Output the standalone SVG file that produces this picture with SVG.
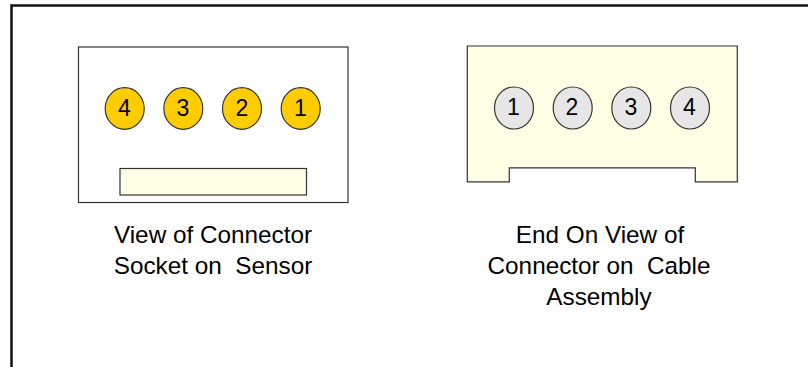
<svg xmlns="http://www.w3.org/2000/svg" width="808" height="367" viewBox="0 0 808 367">
<style>
text{font-family:"Liberation Sans",Arial,sans-serif;fill:#000;text-anchor:middle}
.n{font-size:23px}
.c{font-size:24.300px;white-space:pre}
.s{stroke:#333;stroke-width:1.2}
.y{fill:#ffcc00}
.g{fill:#e6e6e6}
.l{fill:#ffffe6}
</style>
<rect width="808" height="367" fill="#fff"/>
<path d="M11.500 367V5.500H808" fill="none" stroke="#111" stroke-width="2.500"/>
<g id="sensor-socket">
<rect x="78.500" y="47" width="269.500" height="155.500" fill="#fff" class="s"/>
<rect x="120" y="168.500" width="186.500" height="26.500" class="s l"/>
</g>
<g id="socket-pin-4"><ellipse cx="124.700" cy="108.500" rx="19.500" ry="20.800" class="s y"/><text class="n" x="124.500" y="115.500">4</text></g>
<g id="socket-pin-3"><ellipse cx="183.300" cy="108.500" rx="19.500" ry="20.800" class="s y"/><text class="n" x="183" y="115.500">3</text></g>
<g id="socket-pin-2"><ellipse cx="242" cy="108.500" rx="19.500" ry="20.800" class="s y"/><text class="n" x="242" y="115.500">2</text></g>
<g id="socket-pin-1"><ellipse cx="300.700" cy="108.500" rx="19.500" ry="20.800" class="s y"/><text class="n" x="300.500" y="115.500">1</text></g>
<g id="cable-connector">
<path d="M467.300 46H737.300V181.800H695.300V167.800H509.300V181.800H467.300Z" class="s l"/>
</g>
<g id="cable-pin-1"><ellipse cx="514" cy="108" rx="19.500" ry="21" class="s g"/><text class="n" x="513.500" y="114.500">1</text></g>
<g id="cable-pin-2"><ellipse cx="572.700" cy="108" rx="19.500" ry="21" class="s g"/><text class="n" x="572" y="114.500">2</text></g>
<g id="cable-pin-3"><ellipse cx="631.300" cy="108" rx="19.500" ry="21" class="s g"/><text class="n" x="631" y="114.500">3</text></g>
<g id="cable-pin-4"><ellipse cx="690" cy="108" rx="19.500" ry="21" class="s g"/><text class="n" x="689.500" y="114.500">4</text></g>
<g id="caption-sensor">
<text class="c" x="213" y="243">View of Connector</text>
<text class="c" x="213" y="274" xml:space="preserve">Socket on  Sensor</text>
</g>
<g id="caption-cable">
<text class="c" x="600" y="243">End On View of</text>
<text class="c" x="599" y="274" xml:space="preserve">Connector on  Cable</text>
<text class="c" x="599" y="305">Assembly</text>
</g>
</svg>
